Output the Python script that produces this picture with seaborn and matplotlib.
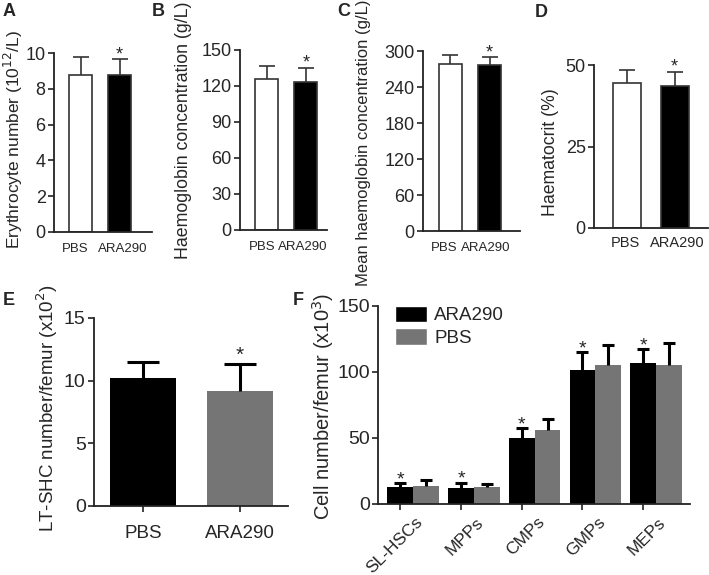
import numpy as np
import pandas as pd
import matplotlib
matplotlib.use('Agg')
import matplotlib.pyplot as plt
import matplotlib.transforms as mtrans
from matplotlib.patches import Patch
import seaborn as sns

sns.set_style('ticks')
plt.rcParams['font.family'] = ['Liberation Sans', 'DejaVu Sans']

groups = ['PBS', 'ARA290']

# top row: bar height and upper error (SD)
ery_mean = [8.78, 8.78]
ery_err = [1.0, 0.87]
hb_mean = [125.6, 123.0]
hb_err = [11.4, 12.3]
mchc_mean = [279, 277]
mchc_err = [14, 13]
hct_mean = [44.6, 43.7]
hct_err = [3.9, 4.3]

# panel E
lt_mean = [10.18, 9.2]
lt_err = [1.34, 2.13]

# panel F
cell_types = ['SL-HSCs', 'MPPs', 'CMPs', 'GMPs', 'MEPs']
ara_mean = [12.6, 11.4, 49.7, 101.7, 106.8]
ara_err = [3.0, 4.5, 7.8, 13.1, 10.6]
pbs_mean = [13.3, 12.6, 56.0, 105.3, 105.5]
pbs_err = [4.3, 2.0, 7.9, 15.2, 16.2]

GRAY = '#757575'
W, H = 709, 575

fig = plt.figure(figsize=(W / 100, H / 100), dpi=100)


def add_axes_px(box):
    # box = (left, right, top, bottom) in pixels from the top-left corner
    l, r, t, b = box
    return fig.add_axes([l / W, (H - b) / H, (r - l) / W, (b - t) / H])


def place_ylabel(ax, box, text, size, px_right, px_center):
    # put the y label so its column ends at px_right and is centred on px_center
    l, r, t, b = box
    ax.set_ylabel(text, fontsize=size)
    ax.yaxis.set_label_coords((px_right - l) / (r - l), (b - px_center) / (b - t))


def style_axis(ax, tick_size):
    sns.despine(ax=ax)
    for s in ['left', 'bottom']:
        ax.spines[s].set_linewidth(1.3)
        ax.spines[s].set_color('#222222')
    ax.tick_params(axis='y', length=4, width=1.2, color='#222222', labelsize=tick_size, pad=2)


def up_errorbar(ax, xs, mean, err, lw, capsize, color):
    # only the upper half of the error bar, like the original
    _, caps, _ = ax.errorbar(xs, mean, yerr=[np.zeros(len(mean)), err], fmt='none',
                             ecolor=color, elinewidth=lw, capsize=capsize, capthick=lw)
    caps[0].set_visible(False)


def shift_labels(ax, shifts):
    for lab, dx in zip(ax.get_xticklabels(), shifts):
        lab.set_transform(lab.get_transform() + mtrans.ScaledTranslation(dx / 100, 0, fig.dpi_scale_trans))


def small_panel(box, mean, err, ylabel, yticks, xlim, letter, letter_xy,
                label_size, label_px, xlab_size=9.5, xlab_pad=8, xlab_shift=(0, 0)):
    ax = add_axes_px(box)
    df = pd.DataFrame({'group': groups, 'value': mean})
    sns.barplot(data=df, x='group', y='value', hue='group', palette=['white', 'black'],
                width=0.59, edgecolor='#333333', linewidth=1.2, legend=False, ax=ax)
    centers = [p.get_x() + p.get_width() / 2 for p in ax.patches]
    up_errorbar(ax, centers, mean, err, 1.2, 6, '#333333')
    ax.annotate('*', (centers[1], mean[1] + err[1]), xytext=(0, 0), textcoords='offset points',
                ha='center', va='baseline', fontsize=13)
    ax.set_ylim(yticks[0], yticks[-1])
    ax.set_yticks(yticks)
    ax.set_xlim(*xlim)
    ax.set_xlabel('')
    place_ylabel(ax, box, ylabel, label_size, *label_px)
    style_axis(ax, 13)
    ax.tick_params(axis='x', length=0, labelsize=xlab_size, pad=xlab_pad)
    shift_labels(ax, xlab_shift)
    fig.text(letter_xy[0] / W, 1 - letter_xy[1] / H, letter, fontsize=13, fontweight='bold',
             ha='left', va='top')
    return ax


small_panel((54, 152, 53, 232), ery_mean, ery_err, 'Erythrocyte number (10$^{12}$/L)',
            [0, 2, 4, 6, 8, 10], (-0.68, 1.83), 'A', (3, 3),
            12.5, (25, 140), xlab_shift=(-5, 3))
small_panel((240, 327, 50, 230), hb_mean, hb_err, 'Haemoglobin concentration (g/L)',
            [0, 30, 60, 90, 120, 150], (-0.69, 1.54), 'B', (152, 3),
            12.8, (192, 130), xlab_shift=(-5, -3))
small_panel((423, 520, 51, 231), mchc_mean, mchc_err, 'Mean haemoglobin concentration (g/L)',
            [0, 60, 120, 180, 240, 300], (-0.69, 1.77), 'C', (337, 3),
            12, (371, 143), xlab_shift=(-6, -4))
small_panel((594, 708, 65, 228), hct_mean, hct_err, 'Haematocrit (%)',
            [0, 25, 50], (-0.69, 1.70), 'D', (535, 4),
            12.7, (559, 152), xlab_size=10.5, xlab_pad=6, xlab_shift=(-2, 3))

# panel E
boxE = (94, 288, 318, 506)
axE = add_axes_px(boxE)
dfE = pd.DataFrame({'group': groups, 'value': lt_mean})
sns.barplot(data=dfE, x='group', y='value', hue='group', palette=['black', GRAY],
            width=0.68, linewidth=0, legend=False, ax=axE)
cE = [p.get_x() + p.get_width() / 2 for p in axE.patches]
up_errorbar(axE, cE, lt_mean, lt_err, 2.2, 11.5, 'black')
axE.annotate('*', (cE[1], lt_mean[1] + lt_err[1]), xytext=(0, 2), textcoords='offset points',
             ha='center', va='baseline', fontsize=15)
axE.set_ylim(0, 15)
axE.set_yticks([0, 5, 10, 15])
axE.set_xlim(-0.505, 1.495)
axE.set_xlabel('')
place_ylabel(axE, boxE, 'LT-SHC number/femur (x10$^{2}$)', 13.5, 60, 408)
style_axis(axE, 14)
axE.tick_params(axis='x', length=4, width=1.2, color='#222222', labelsize=13.5, pad=10)
fig.text(3 / W, 1 - 292 / H, 'E', fontsize=13, fontweight='bold', ha='left', va='top')

# panel F
boxF = (378, 690, 306, 503.5)
axF = add_axes_px(boxF)
dfF = pd.DataFrame({
    'cell': cell_types * 2,
    'treatment': ['ARA290'] * 5 + ['PBS'] * 5,
    'value': ara_mean + pbs_mean,
})
sns.barplot(data=dfF, x='cell', y='value', hue='treatment', hue_order=['ARA290', 'PBS'],
            palette=['black', GRAY], width=0.85, linewidth=0, legend=False, ax=axF)
for cont, m, e in zip(axF.containers, [ara_mean, pbs_mean], [ara_err, pbs_err]):
    xs = [b.get_x() + b.get_width() / 2 for b in cont]
    up_errorbar(axF, xs, m, e, 2.2, 4.5, 'black')
black_x = [b.get_x() + b.get_width() / 2 for b in axF.containers[0]]
for x, m, e in zip(black_x, ara_mean, ara_err):
    axF.annotate('*', (x, m + e), xytext=(0, -1), textcoords='offset points',
                 ha='center', va='baseline', fontsize=14)
axF.set_ylim(0, 150)
axF.set_yticks([0, 50, 100, 150])
axF.set_xlim(-0.58, 4.56)
axF.set_xlabel('')
place_ylabel(axF, boxF, 'Cell number/femur (x10$^{3}$)', 14.5, 336, 406)
style_axis(axF, 14)
axF.set_xticks(range(len(cell_types)))
axF.set_xticklabels(cell_types, rotation=45, ha='right', rotation_mode='anchor')
axF.tick_params(axis='x', which='major', length=0, labelsize=12.5, pad=8)
shift_labels(axF, [2] * 5)
axF.set_xticks(black_x, minor=True)
axF.tick_params(axis='x', which='minor', length=4, width=1.2, color='#222222')
axF.legend(handles=[Patch(facecolor='black', label='ARA290'), Patch(facecolor=GRAY, label='PBS')],
           loc='upper left', bbox_to_anchor=(0.03, 1.04), frameon=False, fontsize=13.5,
           handlelength=1.7, handleheight=1.0, labelspacing=0.2, handletextpad=0.4,
           borderaxespad=0)
fig.text(293 / W, 1 - 292 / H, 'F', fontsize=13, fontweight='bold', ha='left', va='top')

fig.savefig('out.png', dpi=100)
